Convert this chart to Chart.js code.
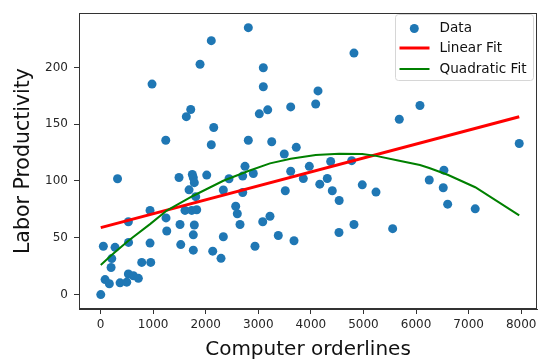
<!DOCTYPE html>
<html>
<head>
<meta charset="utf-8">
<script src="https://cdn.jsdelivr.net/npm/chart.js@4/dist/chart.umd.min.js"></script>
<style>
  html, body { margin: 0; padding: 0; background: #fff; }
  #wrap { width: 544px; height: 364px; }
</style>
</head>
<body>
<div id="wrap"><canvas id="c" width="544" height="364"></canvas></div>
<script>
// Observed data: computer orderlines vs. labor productivity
const orderlines = [
  2106, 1892, 979, 1715, 1631, 2152, 1240, 2106, 2810, 4819,
  3095, 3095, 4135, 4091, 3616, 3179, 3019, 2810, 3255, 3722,
  3494, 4376, 6074, 5681, 7962, 4776, 2747, 2443, 2703, 2905,
  3616, 3970, 3856, 4312, 4169, 2335, 2703, 3513, 4407, 4977,
  5238, 4538, 2570, 2601, 2652, 3222, 3084, 4819, 4534, 2335,
  3380, 3679, 2937, 2291, 6530, 6251, 6517, 6601, 7125, 5555,
  323, 1492, 1745, 1764, 1783, 2019, 1683, 1810, 941, 1606,
  1734, 1829, 1245, 529, 1511, 1783, 1259, 1764, 53, 276,
  532, 941, 1525, 1764, 2133, 213, 200, 783, 954, 86,
  167, 371, 529, 624, 719, 498, 4
];
const productivity = [
  223.5, 202.8, 185.3, 162.9, 156.6, 147.1, 135.9, 131.9, 235.0, 212.6,
  199.7, 183.0, 179.3, 167.8, 165.2, 162.6, 159.1, 135.9, 134.5, 129.6,
  123.8, 117.1, 166.4, 154.3, 133.0, 117.9, 112.9, 102.0, 104.3, 106.6,
  108.6, 112.9, 102.1, 102.2, 97.2, 92.1, 89.9, 91.4, 91.4, 96.6,
  90.2, 82.8, 77.8, 71.2, 61.7, 69.0, 64.1, 61.7, 54.6, 50.9,
  52.0, 47.4, 42.5, 31.9, 109.5, 100.9, 94.0, 79.6, 75.5, 58.0,
  102.0, 103.1, 105.7, 102.8, 98.5, 105.2, 92.2, 86.2, 74.1, 74.1,
  74.1, 74.7, 67.5, 64.1, 61.7, 61.2, 56.0, 52.6, 42.5, 41.6,
  45.9, 45.3, 44.0, 39.1, 38.2, 31.7, 23.8, 28.3, 28.3, 13.2,
  9.5, 10.3, 18.1, 16.6, 14.3, 10.9, 0.0
];

// Linear fit endpoints
const linearX = [4, 7962];
const linearY = [58.9, 156.6];

// Quadratic fit, evaluated at sorted orderline values
const quadX = [4, 200, 529, 941, 1259, 1764, 2335, 2810, 3222, 3616, 4091, 4538, 4977, 5238, 5681, 6074, 6251, 6601, 7125, 7962];
const quadY = [26.1, 34.3, 47.4, 62.0, 74.0, 87.0, 100.2, 108.8, 115.5, 119.6, 122.8, 123.9, 123.8, 122.1, 117.8, 114.0, 111.4, 105.5, 94.5, 69.8];

// Tick labels
const xTicks = [0, 1000, 2000, 3000, 4000, 5000, 6000, 7000, 8000];
const yTicks = [0, 50, 100, 150, 200];

const toPoints = (xs, ys) => xs.map((x, i) => ({ x: x, y: ys[i] }));

const FONT = "'DejaVu Sans', 'Liberation Sans', sans-serif";
const AXIS_COLOR = '#333';

// Rectangle frame around the plot plus an in-plot legend
const framePlugin = {
  id: 'frame',
  afterDraw(chart) {
    const { ctx, chartArea: a } = chart;
    ctx.save();
    ctx.strokeStyle = AXIS_COLOR;
    ctx.lineWidth = 1;
    ctx.strokeRect(Math.round(a.left) + 0.5, Math.round(a.top) + 0.5,
                   Math.round(a.right - a.left) - 1, Math.round(a.bottom - a.top) - 1);

    // legend box
    const bx = 395.5, by = 14.5, bw = 138, bh = 66, r = 3;
    ctx.beginPath();
    ctx.moveTo(bx + r, by);
    ctx.arcTo(bx + bw, by, bx + bw, by + bh, r);
    ctx.arcTo(bx + bw, by + bh, bx, by + bh, r);
    ctx.arcTo(bx, by + bh, bx, by, r);
    ctx.arcTo(bx, by, bx + bw, by, r);
    ctx.closePath();
    ctx.fillStyle = 'rgba(255,255,255,0.8)';
    ctx.fill();
    ctx.strokeStyle = '#d6d6d6';
    ctx.lineWidth = 1;
    ctx.stroke();

    const rows = [28.5, 48, 69];
    ctx.font = '13.6px ' + FONT;
    ctx.textBaseline = 'middle';
    ctx.textAlign = 'left';
    chart.data.datasets.forEach((ds, k) => {
      const y = rows[k];
      if (ds.type === 'scatter') {
        ctx.beginPath();
        ctx.arc(414.3, y, 4.5, 0, Math.PI * 2);
        ctx.fillStyle = ds.backgroundColor;
        ctx.fill();
      } else {
        ctx.beginPath();
        ctx.moveTo(399.5, y);
        ctx.lineTo(429.5, y);
        ctx.strokeStyle = ds.borderColor;
        ctx.lineWidth = ds.borderWidth;
        ctx.stroke();
      }
      ctx.fillStyle = '#111';
      ctx.fillText(ds.label, 439.5, y);
    });
    ctx.restore();
  }
};

new Chart(document.getElementById('c'), {
  type: 'scatter',
  data: {
    datasets: [
      {
        type: 'scatter',
        label: 'Data',
        data: toPoints(orderlines, productivity),
        backgroundColor: '#1f77b4',
        borderWidth: 0,
        pointRadius: 4.5,
        order: 2
      },
      {
        type: 'line',
        label: 'Linear Fit',
        data: toPoints(linearX, linearY),
        borderColor: '#ff0000',
        borderWidth: 3,
        pointRadius: 0,
        fill: false,
        order: 1
      },
      {
        type: 'line',
        label: 'Quadratic Fit',
        data: toPoints(quadX, quadY),
        borderColor: '#008000',
        borderWidth: 2,
        pointRadius: 0,
        fill: false,
        tension: 0,
        order: 0
      }
    ]
  },
  options: {
    responsive: false,
    animation: false,
    events: [],
    layout: { padding: { left: 0, right: 7, top: 7, bottom: 0 } },
    plugins: {
      legend: { display: false },
      tooltip: { enabled: false }
    },
    scales: {
      x: {
        type: 'linear',
        min: -410,
        max: 8300,
        afterBuildTicks: s => { s.ticks = xTicks.map(v => ({ value: v })); },
        afterFit: s => { s.height = 55; },
        grid: { drawOnChartArea: false, drawTicks: true, tickLength: 5, color: AXIS_COLOR },
        border: { display: true, color: AXIS_COLOR },
        ticks: { color: '#262626', font: { family: FONT, size: 12 }, padding: 4, maxRotation: 0, autoSkip: false,
                 callback: v => String(v) },
        title: { display: true, text: 'Computer orderlines', color: '#111', font: { family: FONT, size: 20 }, padding: { top: 0, bottom: 2 } }
      },
      y: {
        type: 'linear',
        min: -12.7,
        max: 247.7,
        afterBuildTicks: s => { s.ticks = yTicks.map(v => ({ value: v })); },
        afterFit: s => { s.width = 79; },
        grid: { drawOnChartArea: false, drawTicks: true, tickLength: 5, color: AXIS_COLOR },
        border: { display: true, color: AXIS_COLOR },
        ticks: { color: '#262626', font: { family: FONT, size: 12 }, padding: 6, autoSkip: false,
                 callback: v => String(v) },
        title: { display: true, text: 'Labor Productivity', color: '#111', font: { family: FONT, size: 20.5 }, padding: { top: 11.5, bottom: 0 } }
      }
    }
  },
  plugins: [framePlugin]
});
</script>
</body>
</html>
